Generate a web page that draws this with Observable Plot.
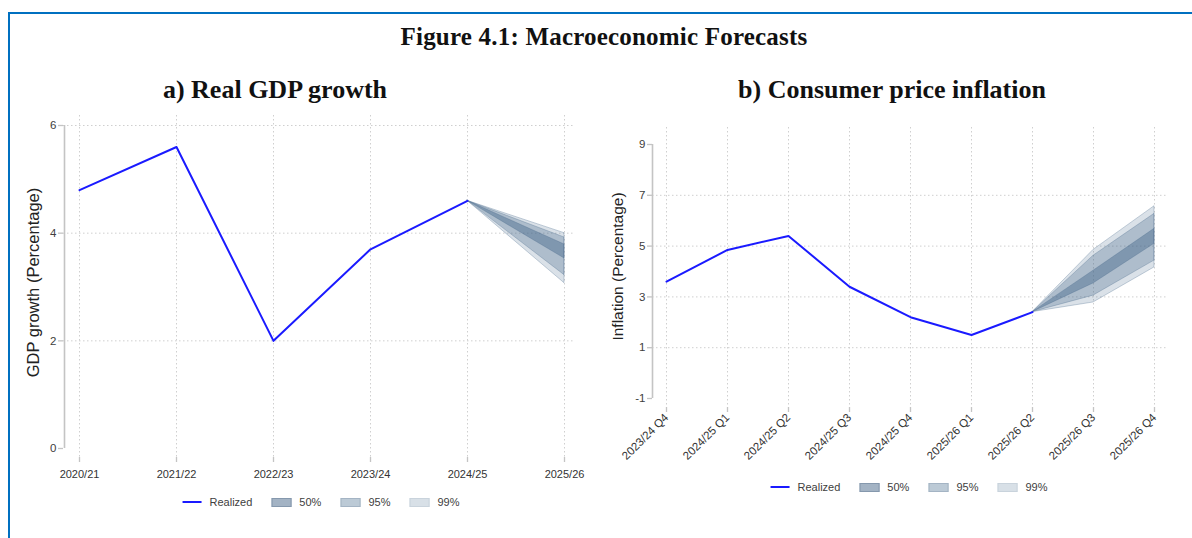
<!DOCTYPE html>
<html>
<head>
<meta charset="utf-8">
<script src="https://cdn.jsdelivr.net/npm/d3@7"></script>
<script src="https://cdn.jsdelivr.net/npm/@observablehq/plot@0.6"></script>
<style>
  html, body { margin: 0; padding: 0; background: #fff; }
  body { width: 1192px; height: 538px; position: relative; overflow: hidden; font-family: "Liberation Sans", Arial, sans-serif; }
  .box { position: absolute; left: 8px; top: 12px; width: 1400px; height: 800px; border-left: 2.5px solid #0070c0; border-top: 2.5px solid #0070c0; }
  .title { position: absolute; left: 0; width: 1208px; top: 24px; text-align: center; font-family: "Liberation Serif", "DejaVu Serif", serif; font-weight: bold; font-size: 25px; line-height: 26px; letter-spacing: 0.2px; color: #111; }
  .sub { position: absolute; top: 76px; text-align: center; font-family: "Liberation Serif", "DejaVu Serif", serif; font-weight: bold; font-size: 26px; line-height: 28px; color: #111; white-space: nowrap; }
  .plot { position: absolute; top: 100px; }
  .legend { position: absolute; display: flex; align-items: center; font-size: 11px; color: #404040; transform: translate(-50%, -50%); white-space: nowrap; }
  .legend .item { display: flex; align-items: center; margin-right: 19px; }
  .legend .item:last-child { margin-right: 0; }
  .legend .ln { width: 19px; height: 2px; background: #1a1aff; margin-right: 8px; }
  .legend .sw { width: 18px; height: 7px; margin-right: 8px; }
</style>
</head>
<body>
<div class="box"></div>
<div class="title">Figure 4.1: Macroeconomic Forecasts</div>
<div class="sub" style="left:75px;width:400px;">a) Real GDP growth</div>
<div class="sub" style="left:692px;width:400px;">b) Consumer price inflation</div>
<div id="gdp" class="plot" style="left:0px;"></div>
<div id="cpi" class="plot" style="left:590px;"></div>
<div id="legGdp" class="legend" style="left:321px;top:502px;"></div>
<div id="legCpi" class="legend" style="left:909px;top:487px;"></div>
<script>
// ---- Real GDP growth (annual) ----
const gdpPeriods = ["2020/21", "2021/22", "2022/23", "2023/24", "2024/25", "2025/26"];
const gdpRealized = [4.8, 5.6, 2.0, 3.7, 4.6];
const gdpFanPeriods = ["2024/25", "2025/26"];
const gdpLo99 = [4.6, 3.07], gdpHi99 = [4.6, 4.0];
const gdpLo95 = [4.6, 3.22], gdpHi95 = [4.6, 3.92];
const gdpLo50 = [4.6, 3.53], gdpHi50 = [4.6, 3.79];
const gdpYTicks = [0, 2, 4, 6];
const gdpGrid = [2, 4, 6];

// ---- Consumer price inflation (quarterly) ----
const cpiPeriods = ["2023/24 Q4", "2024/25 Q1", "2024/25 Q2", "2024/25 Q3", "2024/25 Q4",
                    "2025/26 Q1", "2025/26 Q2", "2025/26 Q3", "2025/26 Q4"];
const cpiRealized = [3.6, 4.85, 5.4, 3.4, 2.2, 1.5, 2.4];
const cpiFanPeriods = ["2025/26 Q2", "2025/26 Q3", "2025/26 Q4"];
const cpiLo99 = [2.4, 2.78, 4.16], cpiHi99 = [2.4, 4.85, 6.57];
const cpiLo95 = [2.4, 3.05, 4.43], cpiHi95 = [2.4, 4.62, 6.27];
const cpiLo50 = [2.4, 3.53, 5.09], cpiHi50 = [2.4, 4.03, 5.68];
const cpiYTicks = [-1, 1, 3, 5, 7, 9];
const cpiGrid = [1, 3, 5, 7];

const bandOpacity = {"99%": 0.2, "95%": 0.3, "50%": 0.45};
const fanColor = "#48698c";
const lineColor = "#1a1aff";
const axisColor = "#c4c4c4";
const gridColor = "#cfcfcf";

function bandRows(periods, lo, hi) {
  return periods.map((p, i) => ({period: p, lo: lo[i], hi: hi[i]}));
}

function fanPlot(cfg) {
  const realized = cfg.realized.map((v, i) => ({period: cfg.periods[i], value: v}));
  const first = cfg.periods[0], last = cfg.periods[cfg.periods.length - 1];
  const bands = [
    ["99%", bandRows(cfg.fanPeriods, cfg.lo99, cfg.hi99)],
    ["95%", bandRows(cfg.fanPeriods, cfg.lo95, cfg.hi95)],
    ["50%", bandRows(cfg.fanPeriods, cfg.lo50, cfg.hi50)]
  ];
  return Plot.plot({
    width: cfg.width,
    height: cfg.height,
    marginLeft: cfg.marginLeft,
    marginRight: cfg.marginRight,
    marginTop: cfg.marginTop,
    marginBottom: cfg.marginBottom,
    style: {fontFamily: "'Liberation Sans', Arial, sans-serif", fontSize: "11px", background: "transparent", color: "#404040", overflow: "visible"},
    x: {type: "point", domain: cfg.periods, padding: 0, insetLeft: cfg.insetLeft, insetRight: cfg.insetRight},
    y: {domain: cfg.yDomain, insetTop: cfg.insetTop, insetBottom: cfg.insetBottom},
    marks: [
      Plot.gridX(cfg.periods, {stroke: gridColor, strokeOpacity: 1, strokeDasharray: "1.5,2.5"}),
      Plot.gridY(cfg.grid, {stroke: gridColor, strokeOpacity: 1, strokeDasharray: "1.5,2.5"}),
      ...bands.map(([name, rows]) => Plot.areaY(rows, {
        x: "period", y1: "lo", y2: "hi",
        fill: fanColor, fillOpacity: bandOpacity[name],
        stroke: fanColor, strokeOpacity: 0.3, strokeWidth: 1
      })),
      Plot.line(realized, {x: "period", y: "value", stroke: lineColor, strokeWidth: 2}),
      Plot.ruleX([first], {y1: cfg.yDomain[0], y2: cfg.yTicks[cfg.yTicks.length - 1], dx: -cfg.insetLeft, stroke: axisColor, strokeWidth: 1.6}),
      Plot.ruleY([cfg.yDomain[0]], {x1: first, x2: last, dy: cfg.insetBottom, stroke: axisColor, strokeWidth: 1.6}),
      Plot.axisY({ticks: cfg.yTicks, tickFormat: d => String(d), tickSize: 5, tickPadding: 2, stroke: axisColor, strokeWidth: 1.3, fill: "#404040", label: null, fontSize: 11.5}),
      Plot.axisX({tickSize: 5, tickPadding: cfg.xTickPadding, tickRotate: cfg.tickRotate, stroke: axisColor, strokeWidth: 1.3, fill: "#333", label: null, fontSize: cfg.xFontSize}),
      Plot.text([cfg.yLabel], {text: d => d, frameAnchor: "left", textAnchor: "middle", dx: -cfg.yLabelOffset, dy: cfg.yLabelShift, rotate: -90, fontSize: cfg.yLabelSize, fill: "#222"})
    ]
  });
}

document.getElementById("gdp").append(fanPlot({
  periods: gdpPeriods, realized: gdpRealized, fanPeriods: gdpFanPeriods,
  lo99: gdpLo99, hi99: gdpHi99, lo95: gdpLo95, hi95: gdpHi95, lo50: gdpLo50, hi50: gdpHi50,
  yDomain: [0, 6], yTicks: gdpYTicks, grid: gdpGrid,
  width: 590, height: 390, marginLeft: 63, marginRight: 15, marginTop: 15, marginBottom: 33,
  insetLeft: 15, insetRight: 10, insetTop: 10, insetBottom: 9,
  xTickPadding: 8, tickRotate: 0, xFontSize: 11,
  yLabel: "GDP growth (Percentage)", yLabelOffset: 30, yLabelShift: -4, yLabelSize: 16.5
}));

document.getElementById("cpi").append(fanPlot({
  periods: cpiPeriods, realized: cpiRealized, fanPeriods: cpiFanPeriods,
  lo99: cpiLo99, hi99: cpiHi99, lo95: cpiLo95, hi95: cpiHi95, lo50: cpiLo50, hi50: cpiHi50,
  yDomain: [-1, 9], yTicks: cpiYTicks, grid: cpiGrid,
  width: 602, height: 375, marginLeft: 62, marginRight: 25, marginTop: 27, marginBottom: 68,
  insetLeft: 14, insetRight: 13, insetTop: 17, insetBottom: 9,
  xTickPadding: 3, tickRotate: -45, xFontSize: 11.5,
  yLabel: "Inflation (Percentage)", yLabelOffset: 34.5, yLabelShift: -1, yLabelSize: 15.5
}));

// Legends: realized line plus the three forecast bands
function legend(el) {
  const root = document.getElementById(el);
  const r = document.createElement("div");
  r.className = "item";
  r.innerHTML = '<div class="ln"></div><span>Realized</span>';
  root.append(r);
  const swatchFill = {"50%": "#a3b3c4", "95%": "#bccad6", "99%": "#d8e0e7"};
  const swatchEdge = {"50%": "#8598ad", "95%": "#a4b4c4", "99%": "#c9d3dc"};
  ["50%", "95%", "99%"].forEach(name => {
    const it = document.createElement("div");
    it.className = "item";
    it.innerHTML = `<div class="sw" style="background:${swatchFill[name]};border:1px solid ${swatchEdge[name]}"></div><span>${name}</span>`;
    root.append(it);
  });
}
legend("legGdp");
legend("legCpi");
</script>
</body>
</html>
